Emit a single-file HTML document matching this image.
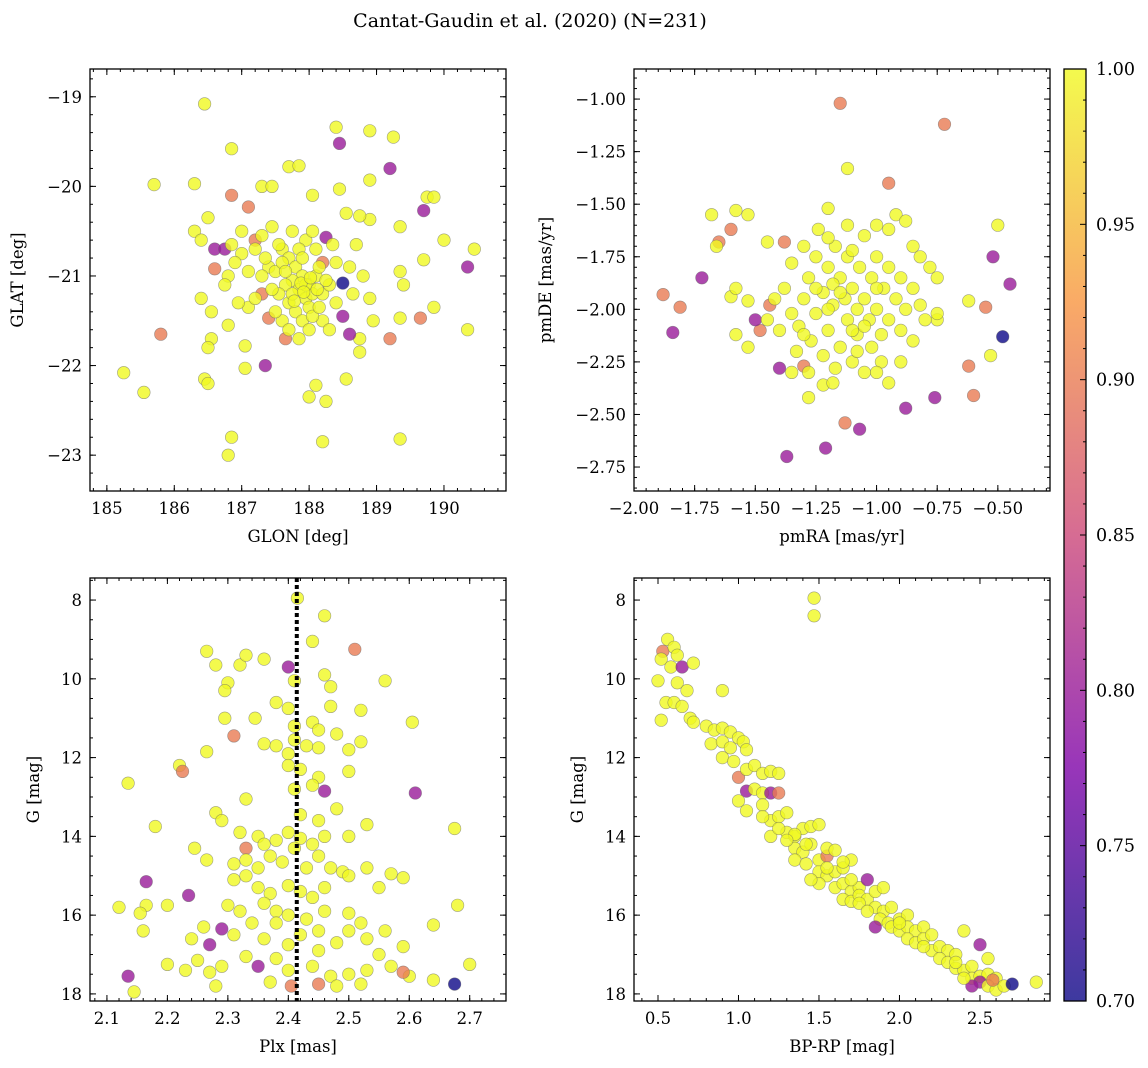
<!DOCTYPE html>
<html><head><meta charset="utf-8">
<style>
body{margin:0;background:#fff;}
svg{display:block;font-family:"DejaVu Serif","Liberation Serif",serif;}
</style></head>
<body>
<svg id="fig" width="1148" height="1068" viewBox="0 0 1148 1068">
<text x="530" y="27" font-size="19" text-anchor="middle">Cantat-Gaudin et al. (2020) (N=231)</text>
</svg>
<script>
// ---- data ----
const skyOutliers=[[186.45,-19.08,1],[185.7,-19.98,1],[186.3,-19.97,1],[186.85,-19.58,1],[187.3,-20.0,1],[187.45,-20.0,1],[187.7,-19.78,1],[187.85,-19.77,1],[188.4,-19.34,1],[188.9,-19.38,1],[189.25,-19.45,1],[188.45,-19.52,0.8],[189.2,-19.8,0.8],[188.05,-20.1,1],[188.45,-20.03,1],[188.9,-19.93,1],[189.75,-20.12,1],[189.7,-20.27,0.8],[186.85,-20.1,0.9],[187.1,-20.23,0.9],[186.5,-20.35,1],[186.3,-20.5,1],[186.4,-20.6,1],[186.6,-20.7,0.8],[186.75,-20.7,0.8],[186.85,-20.65,1],[187.0,-20.75,1],[186.9,-20.85,1],[186.6,-20.92,0.9],[186.8,-21.0,1],[186.75,-21.1,1],[186.4,-21.25,1],[186.55,-21.4,1],[186.8,-21.55,1],[186.55,-21.7,1],[186.5,-21.8,1],[187.05,-21.78,1],[185.8,-21.65,0.9],[185.25,-22.08,1],[185.55,-22.3,1],[186.45,-22.15,1],[186.5,-22.2,1],[187.05,-22.03,1],[187.35,-22.0,0.8],[186.85,-22.8,1],[186.8,-23.0,1],[188.2,-22.85,1],[188.0,-22.35,1],[188.1,-22.22,1],[188.25,-22.4,1],[188.55,-22.15,1],[188.75,-21.85,1],[188.75,-21.7,1],[188.6,-21.65,0.8],[189.2,-21.7,0.9],[189.65,-21.47,0.9],[189.85,-21.35,1],[190.35,-21.6,1],[189.35,-21.47,1],[188.95,-21.5,1],[189.4,-21.1,1],[189.35,-20.95,1],[189.7,-20.82,1],[190.0,-20.6,1],[190.35,-20.9,0.8],[190.45,-20.7,1],[189.85,-20.12,1],[189.35,-20.45,1],[188.9,-20.37,1],[188.55,-20.3,1],[188.75,-20.33,1],[188.7,-20.65,1],[188.5,-21.08,0.7],[188.5,-21.45,0.8],[187.3,-21.2,0.9],[187.4,-21.47,0.9],[187.65,-21.7,0.9],[187.2,-20.6,0.9],[188.25,-20.57,0.8],[188.2,-20.85,0.9],[189.35,-22.82,1]];
const skyCore=[[187.6,-20.7],[187.7,-20.8],[187.8,-20.9],[187.9,-21.0],[188.0,-21.1],[187.75,-21.05],[187.85,-21.15],[187.95,-21.25],[188.05,-21.2],[187.65,-21.1],[187.55,-21.2],[187.7,-21.3],[187.8,-21.4],[187.9,-21.5],[188.0,-21.35],[188.1,-21.0],[188.15,-20.9],[188.2,-21.2],[188.3,-21.1],[188.1,-20.7],[187.95,-20.6],[188.05,-20.5],[187.85,-20.7],[187.4,-20.9],[187.3,-21.0],[187.5,-20.95],[187.6,-21.5],[187.7,-21.6],[187.5,-21.4],[188.2,-21.5],[188.4,-21.3],[188.3,-21.6],[188.0,-21.6],[187.85,-21.7],[187.2,-20.7],[187.3,-20.55],[187.45,-20.45],[187.75,-20.5],[188.6,-20.9],[188.8,-21.0],[188.65,-21.2],[188.9,-21.25],[187.1,-21.35],[187.2,-21.25],[186.95,-21.3],[187.0,-20.5],[187.1,-20.95],[187.35,-20.8],[187.55,-20.65],[188.35,-20.65],[188.4,-20.85],[188.05,-21.45],[187.9,-20.8],[187.6,-20.85],[188.15,-21.35],[187.75,-21.2],[187.45,-21.15],[187.65,-20.95],[187.95,-21.1],[188.25,-21.05],[187.88,-21.08],[188.02,-21.02],[187.92,-21.18],[187.78,-21.28],[188.12,-21.15]];
const pmOutliers=[[-1.15,-1.02,0.9],[-0.72,-1.12,0.9],[-1.12,-1.33,1],[-0.95,-1.4,0.9],[-1.68,-1.55,1],[-1.58,-1.53,1],[-1.53,-1.55,1],[-1.6,-1.62,0.9],[-1.65,-1.68,0.9],[-1.66,-1.7,1],[-1.72,-1.85,0.8],[-1.88,-1.93,0.9],[-1.81,-1.99,0.9],[-1.84,-2.11,0.8],[-0.5,-1.6,1],[-0.52,-1.75,0.8],[-0.45,-1.88,0.8],[-0.55,-1.99,0.9],[-0.53,-2.22,1],[-0.62,-1.96,1],[-0.48,-2.13,0.7],[-0.62,-2.27,0.9],[-0.6,-2.41,0.9],[-0.76,-2.42,0.8],[-0.88,-2.47,0.8],[-1.07,-2.57,0.8],[-1.13,-2.54,0.9],[-1.21,-2.66,0.8],[-1.37,-2.7,0.8],[-1.4,-2.28,0.8],[-1.3,-2.27,0.9],[-1.28,-2.42,1],[-1.22,-2.36,1],[-1.35,-2.3,1],[-1.48,-2.1,0.9],[-1.5,-2.05,0.8],[-1.44,-1.98,0.9],[-1.38,-1.68,0.9],[-1.53,-1.96,1],[-1.6,-1.94,1],[-1.58,-1.9,1],[-1.58,-2.12,1],[-1.53,-2.18,1],[-1.45,-1.68,1],[-1.4,-2.1,1],[-0.78,-1.8,1],[-0.75,-2.05,1],[-0.75,-2.02,1]];
const pmCore=[[-1.3,-1.7],[-1.25,-1.75],[-1.2,-1.8],[-1.15,-1.85],[-1.1,-1.9],[-1.05,-1.95],[-1.0,-2.0],[-0.95,-2.05],[-0.9,-2.1],[-1.35,-1.78],[-1.28,-1.85],[-1.22,-1.92],[-1.18,-1.98],[-1.12,-2.05],[-1.08,-2.12],[-1.02,-2.18],[-0.98,-2.25],[-1.3,-1.95],[-1.25,-2.02],[-1.2,-2.1],[-1.15,-2.18],[-1.1,-2.25],[-1.05,-2.3],[-1.32,-2.08],[-1.27,-2.15],[-1.22,-2.22],[-1.17,-2.28],[-1.0,-1.75],[-0.95,-1.8],[-0.9,-1.85],[-0.85,-1.9],[-0.82,-1.98],[-0.88,-2.0],[-0.92,-1.95],[-0.97,-1.9],[-1.02,-1.85],[-1.07,-1.8],[-1.12,-1.75],[-1.17,-1.7],[-1.05,-1.65],[-1.0,-1.6],[-0.95,-1.62],[-1.12,-1.6],[-1.2,-1.66],[-1.1,-1.72],[-0.85,-1.7],[-0.92,-1.55],[-0.88,-1.58],[-0.82,-1.75],[-1.38,-1.9],[-1.42,-1.95],[-1.35,-2.02],[-1.45,-2.05],[-1.33,-2.2],[-1.28,-2.3],[-1.18,-2.35],[-1.08,-2.2],[-1.0,-2.3],[-0.95,-2.35],[-0.98,-2.12],[-1.03,-2.05],[-1.13,-1.95],[-1.18,-1.88],[-1.08,-2.0],[-1.25,-1.9],[-1.3,-2.12],[-0.9,-2.25],[-0.85,-2.15],[-1.2,-1.52],[-1.24,-1.62],[-0.75,-1.85],[-0.8,-2.05],[-1.15,-1.92],[-1.05,-2.08],[-1.2,-2.0],[-1.1,-2.1],[-1.0,-1.9]];
const plxG=[[2.415,7.95,1],[2.46,8.4,1],[2.51,9.25,0.9],[2.44,9.05,1],[2.265,9.3,1],[2.28,9.65,1],[2.32,9.65,1],[2.33,9.4,1],[2.36,9.5,1],[2.4,9.7,0.8],[2.41,10.05,1],[2.46,9.9,1],[2.47,10.2,1],[2.3,10.1,1],[2.295,10.3,1],[2.56,10.05,1],[2.38,10.6,1],[2.4,10.75,1],[2.47,10.7,1],[2.52,10.8,1],[2.295,11.0,1],[2.345,11.0,1],[2.44,11.1,1],[2.605,11.1,1],[2.41,11.2,1],[2.45,11.3,1],[2.48,11.4,1],[2.31,11.45,0.9],[2.36,11.65,1],[2.38,11.7,1],[2.41,11.55,1],[2.43,11.7,1],[2.52,11.6,1],[2.5,11.8,1],[2.265,11.85,1],[2.45,11.75,1],[2.4,11.9,1],[2.135,12.65,1],[2.22,12.2,1],[2.225,12.35,0.9],[2.4,12.2,1],[2.42,12.3,1],[2.45,12.5,1],[2.5,12.35,1],[2.61,12.9,0.8],[2.46,12.85,0.8],[2.44,12.7,1],[2.28,13.4,1],[2.33,13.05,1],[2.41,12.8,1],[2.48,13.3,1],[2.42,13.45,1],[2.45,13.6,1],[2.29,13.6,1],[2.32,13.9,1],[2.33,14.3,0.9],[2.35,14.0,1],[2.36,14.2,1],[2.38,14.1,1],[2.4,13.9,1],[2.42,14.05,1],[2.44,14.2,1],[2.46,14.0,1],[2.5,14.0,1],[2.53,13.7,1],[2.18,13.75,1],[2.245,14.3,1],[2.265,14.6,1],[2.31,14.7,1],[2.33,14.6,1],[2.35,14.8,1],[2.37,14.5,1],[2.39,14.65,1],[2.41,14.3,1],[2.43,14.8,1],[2.45,14.5,1],[2.47,14.8,1],[2.49,14.9,1],[2.53,14.8,1],[2.57,14.95,1],[2.59,15.05,1],[2.675,13.8,1],[2.31,15.1,1],[2.33,15.0,1],[2.35,15.3,1],[2.37,15.45,1],[2.4,15.25,1],[2.42,15.4,1],[2.44,15.55,1],[2.46,15.3,1],[2.5,15.0,1],[2.55,15.3,1],[2.165,15.15,0.8],[2.12,15.8,1],[2.165,15.75,1],[2.235,15.5,0.8],[2.2,15.75,1],[2.3,15.75,1],[2.32,15.9,1],[2.36,15.7,1],[2.38,15.9,1],[2.4,16.0,1],[2.43,16.1,1],[2.46,15.9,1],[2.5,15.95,1],[2.52,16.2,1],[2.155,15.95,1],[2.16,16.4,1],[2.24,16.6,1],[2.26,16.3,1],[2.27,16.75,0.8],[2.29,16.35,0.8],[2.31,16.5,1],[2.34,16.2,1],[2.36,16.6,1],[2.38,16.2,1],[2.42,16.5,1],[2.45,16.4,1],[2.48,16.7,1],[2.5,16.4,1],[2.53,16.6,1],[2.56,16.4,1],[2.59,16.8,1],[2.64,16.25,1],[2.68,15.75,1],[2.2,17.25,1],[2.23,17.4,1],[2.25,17.15,1],[2.27,17.45,1],[2.29,17.3,1],[2.33,17.05,1],[2.35,17.3,0.8],[2.38,17.1,1],[2.4,17.4,1],[2.44,17.3,1],[2.47,17.55,1],[2.5,17.5,1],[2.53,17.4,1],[2.57,17.3,1],[2.6,17.55,1],[2.59,17.45,0.9],[2.135,17.55,0.8],[2.145,17.95,1],[2.28,17.8,1],[2.37,17.7,1],[2.405,17.8,0.9],[2.45,17.75,0.9],[2.48,17.8,1],[2.52,17.75,1],[2.64,17.65,1],[2.675,17.75,0.7],[2.7,17.25,1],[2.55,17.0,1],[2.45,16.9,1],[2.4,16.75,1]];
const cmd=[[1.47,7.95,1],[1.47,8.4,1],[0.53,9.3,0.9],[0.56,9.0,1],[0.6,9.2,1],[0.52,9.5,1],[0.62,9.4,1],[0.58,9.7,1],[0.65,9.7,0.8],[0.72,9.6,1],[0.5,10.05,1],[0.62,10.1,1],[0.68,10.3,1],[0.55,10.6,1],[0.6,10.6,1],[0.65,10.7,1],[0.52,11.05,1],[0.7,11.0,1],[0.72,11.1,1],[0.9,10.3,1],[0.8,11.2,1],[0.85,11.3,1],[0.9,11.25,1],[0.95,11.35,1],[0.83,11.65,1],[0.9,11.6,1],[0.95,11.75,1],[1.0,11.5,1],[1.03,11.6,1],[1.05,11.8,1],[0.9,12.0,1],[0.97,12.1,1],[1.0,12.5,0.9],[1.05,12.3,1],[1.1,12.2,1],[1.15,12.4,1],[1.2,12.35,1],[1.25,12.4,1],[1.05,12.85,0.8],[1.1,12.8,1],[1.15,12.9,1],[1.2,12.9,0.8],[1.25,12.9,0.9],[1.0,13.1,1],[1.05,13.35,1],[1.15,13.2,1],[1.2,13.6,1],[1.25,13.5,1],[1.3,13.4,1],[1.2,14.0,1],[1.3,13.9,1],[1.35,14.0,1],[1.4,13.8,1],[1.45,13.75,1],[1.5,13.7,1],[1.35,14.3,1],[1.4,14.4,1],[1.45,14.2,1],[1.35,14.6,1],[1.42,14.7,1],[1.5,14.6,1],[1.55,14.5,0.9],[1.55,14.3,1],[1.6,14.35,1],[1.5,14.9,1],[1.55,15.0,1],[1.6,14.9,1],[1.65,14.8,1],[1.7,14.6,1],[1.5,15.2,1],[1.6,15.3,1],[1.65,15.2,1],[1.7,15.4,1],[1.75,15.3,1],[1.8,15.1,0.8],[1.65,15.6,1],[1.7,15.65,1],[1.75,15.5,1],[1.8,15.6,1],[1.85,15.4,1],[1.9,15.3,1],[1.85,15.8,1],[1.9,15.9,1],[1.95,15.8,1],[1.88,16.1,1],[1.93,16.2,1],[1.85,16.3,0.8],[1.95,16.3,1],[2.0,16.1,1],[2.05,16.0,1],[2.0,16.4,1],[2.05,16.3,1],[2.1,16.4,1],[2.15,16.3,1],[2.05,16.6,1],[2.1,16.7,1],[2.15,16.6,1],[2.2,16.5,1],[2.2,16.9,1],[2.25,16.8,1],[2.3,16.9,1],[2.25,17.1,1],[2.3,17.2,1],[2.35,17.0,1],[2.4,16.4,1],[2.5,16.75,0.8],[2.35,17.35,1],[2.4,17.4,1],[2.45,17.3,1],[2.55,17.1,1],[2.45,17.6,1],[2.5,17.55,1],[2.55,17.5,1],[2.6,17.6,1],[2.5,17.7,0.8],[2.45,17.8,0.8],[2.55,17.8,1],[2.6,17.9,1],[2.65,17.8,1],[2.7,17.75,0.7],[2.85,17.7,1],[2.58,17.65,0.9],[1.55,14.8,1],[1.45,15.1,1],[1.7,15.1,1],[1.25,13.8,1],[1.35,13.95,1],[2.0,16.2,1],[2.15,16.8,1],[2.35,17.2,1],[1.75,15.7,1],[1.8,15.9,1],[1.65,14.65,1],[1.42,14.2,1],[1.3,14.1,1],[1.15,13.5,1],[2.4,17.6,1]];
const meanPlx=2.414;
const cbarTicks=[0.70,0.75,0.80,0.85,0.90,0.95,1.00];

// ---- drawing ----
const NS="http://www.w3.org/2000/svg";
const svg=document.getElementById('fig');
function mk(tag,attrs,parent){const e=document.createElementNS(NS,tag);for(const k in attrs)e.setAttribute(k,attrs[k]);(parent||svg).appendChild(e);return e;}
const stops=[[0,[13,8,135]],[0.25,[126,3,168]],[0.5,[204,71,120]],[0.75,[248,149,64]],[1,[240,249,33]]];
function plasma(v){let t=Math.max(0,Math.min(1,(v-0.7)/0.3));for(let i=0;i<4;i++){const a=stops[i],b=stops[i+1];if(t<=b[0]){const f=(t-a[0])/(b[0]-a[0]);const c=a[1].map((x,j)=>Math.round(x+(b[1][j]-x)*f));return `rgb(${c})`;}}return 'rgb(240,249,33)';}
function fmtMinus(s){return s.replace('-','\u2212');}

function panel(o){
  const g=mk('g',{});
  
  
  const sx=v=>o.x0+(v-o.xmin)/(o.xmax-o.xmin)*o.w;
  const sy=v=>o.y0+(v-o.ytop)/(o.ybot-o.ytop)*o.h;
  const cp='cp'+o.name;
  const defs=mk('defs',{},g);const c=mk('clipPath',{id:cp},defs);mk('rect',{x:o.x0,y:o.y0,width:o.w,height:o.h},c);
  const pts=mk('g',{'clip-path':`url(#${cp})`},g);
  
  
  o.pts.forEach(p=>{
    const e=mk('circle',{cx:sx(p[0]).toFixed(1),cy:sy(p[1]).toFixed(1),r:6.3,fill:plasma(p[2]),'fill-opacity':0.8,stroke:'#666','stroke-opacity':0.6,'stroke-width':0.6},pts);
    
    
  });
  if(o.vline!==undefined){
    const l=mk('line',{x1:sx(o.vline),x2:sx(o.vline),y1:o.y0,y2:o.y0+o.h,stroke:'#000','stroke-width':4,'stroke-dasharray':'4,3'},g);
    
    
  }
  const tk=mk('g',{stroke:'#000','stroke-width':1},g);
  const xlo=Math.min(o.xmin,o.xmax),xhi=Math.max(o.xmin,o.xmax);
  for(let v=Math.ceil(xlo/o.xmn-1e-6)*o.xmn;v<=xhi+1e-9;v+=o.xmn){const X=sx(v);mk('line',{x1:X,x2:X,y1:o.y0+o.h,y2:o.y0+o.h-3},tk);mk('line',{x1:X,x2:X,y1:o.y0,y2:o.y0+3},tk);}
  const ylo=Math.min(o.ytop,o.ybot),yhi=Math.max(o.ytop,o.ybot);
  for(let v=Math.ceil(ylo/o.ymn-1e-6)*o.ymn;v<=yhi+1e-9;v+=o.ymn){const Y=sy(v);mk('line',{x1:o.x0,x2:o.x0+3,y1:Y,y2:Y},tk);mk('line',{x1:o.x0+o.w,x2:o.x0+o.w-3,y1:Y,y2:Y},tk);}
  o.xt.forEach(v=>{const X=sx(v);mk('line',{x1:X,x2:X,y1:o.y0+o.h,y2:o.y0+o.h-6},tk);mk('line',{x1:X,x2:X,y1:o.y0,y2:o.y0+6},tk);
    const t=mk('text',{x:X,y:o.y0+o.h+23,'font-size':16.5,'text-anchor':'middle'},g);t.textContent=fmtMinus(v.toFixed(o.xd));
    });
  o.yt.forEach(v=>{const Y=sy(v);mk('line',{x1:o.x0,x2:o.x0+6,y1:Y,y2:Y},tk);mk('line',{x1:o.x0+o.w,x2:o.x0+o.w-6,y1:Y,y2:Y},tk);
    const t=mk('text',{x:o.x0-8,y:Y+6,'font-size':16.5,'text-anchor':'end'},g);t.textContent=fmtMinus(v.toFixed(o.yd));
    });
  const fr=mk('rect',{x:o.x0,y:o.y0,width:o.w,height:o.h,fill:'none',stroke:'#000','stroke-width':1.3},g);
  
  const xl=mk('text',{x:o.x0+o.w/2,y:o.y0+o.h+51,'font-size':16.5,'text-anchor':'middle'},g);xl.textContent=o.xlab;
  
  const yl=mk('text',{x:o.ylx,y:o.y0+o.h/2,'font-size':16.5,'text-anchor':'middle',transform:`rotate(-90 ${o.ylx} ${o.y0+o.h/2})`},g);yl.textContent=o.ylab;
  
}
const skyPts=skyOutliers.concat(skyCore.map(p=>[p[0],p[1],1]));
const pmPts=pmOutliers.concat(pmCore.map(p=>[p[0],p[1],1]));
panel({name:'sky-panel',x0:90,y0:69,w:416,h:422,xmin:184.75,xmax:190.92,ytop:-18.69,ybot:-23.40,xt:[185,186,187,188,189,190],yt:[-19,-20,-21,-22,-23],xmn:0.2,ymn:0.2,xd:0,yd:0,pts:skyPts,xlab:'GLON [deg]',ylab:'GLAT [deg]',ylx:23});
panel({name:'proper-motion-panel',x0:634,y0:69,w:416,h:422,xmin:-2.0,xmax:-0.285,ytop:-0.857,ybot:-2.864,xt:[-2,-1.75,-1.5,-1.25,-1,-0.75,-0.5],yt:[-1,-1.25,-1.5,-1.75,-2,-2.25,-2.5,-2.75],xmn:0.05,ymn:0.05,xd:2,yd:2,pts:pmPts,xlab:'pmRA [mas/yr]',ylab:'pmDE [mas/yr]',ylx:551});
panel({name:'parallax-panel',x0:90,y0:578,w:416,h:423,xmin:2.072,xmax:2.76,ytop:7.44,ybot:18.18,xt:[2.1,2.2,2.3,2.4,2.5,2.6,2.7],yt:[8,10,12,14,16,18],xmn:0.02,ymn:0.5,xd:1,yd:0,pts:plxG,vline:meanPlx,xlab:'Plx [mas]',ylab:'G [mag]',ylx:39});
panel({name:'cmd-panel',x0:634,y0:578,w:416,h:423,xmin:0.351,xmax:2.935,ytop:7.44,ybot:18.18,xt:[0.5,1.0,1.5,2.0,2.5],yt:[8,10,12,14,16,18],xmn:0.1,ymn:0.5,xd:1,yd:0,pts:cmd,xlab:'BP-RP [mag]',ylab:'G [mag]',ylx:583});

(function(){
  const x0=1064,y0=69,w=22,h=932;
  const cb=mk('g',{});
  const defs=mk('defs',{},cb);const lg=mk('linearGradient',{id:'cbg',x1:0,y1:1,x2:0,y2:0},defs);
  for(let i=0;i<=20;i++){const v=0.7+0.3*i/20;mk('stop',{offset:i/20,'stop-color':plasma(v),'stop-opacity':0.8},lg);}
  mk('rect',{x:x0,y:y0,width:w,height:h,fill:'url(#cbg)'},cb);
  const sy=v=>y0+(1-v)/0.3*h;
  for(let k=70;k<=100;k++){const Y=sy(k/100);mk('line',{x1:x0+w,x2:x0+w-(k%5===0?6:3),y1:Y,y2:Y,stroke:'#000','stroke-width':1},cb);}
  cbarTicks.forEach(v=>{const t=mk('text',{x:x0+w+10,y:sy(v)+6,'font-size':17.5},cb);t.textContent=v.toFixed(2);
    });
  mk('rect',{x:x0,y:y0,width:w,height:h,fill:'none',stroke:'#000','stroke-width':1.3},cb);
})();
</script>
</body></html>
